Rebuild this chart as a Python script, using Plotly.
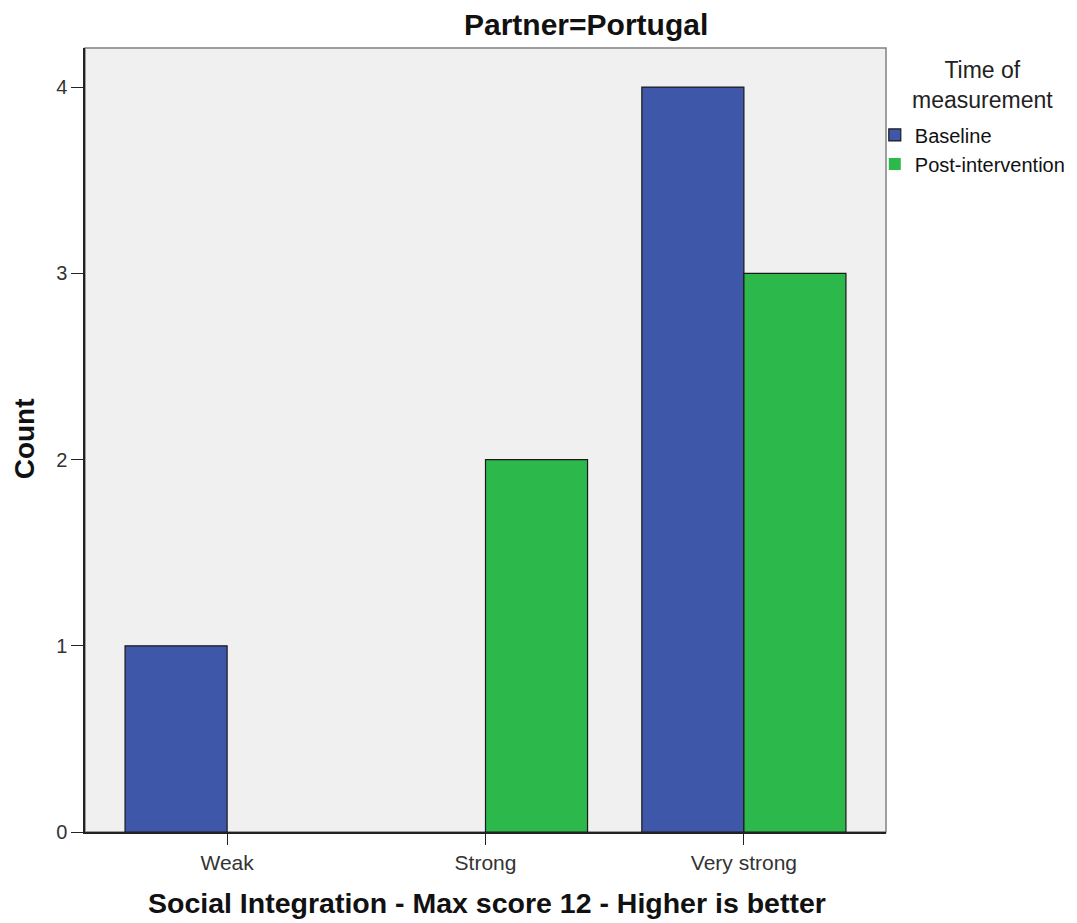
import plotly.graph_objects as go

categories = ["Weak", "Strong", "Very strong"]
baseline = [1, 0, 4]
post_intervention = [0, 2, 3]
series_names = ["Baseline", "Post-intervention"]
y_ticks = [0, 1, 2, 3, 4]

FONT = "Liberation Sans, Arial, sans-serif"


def outline_widths(values):
    return [0 if v == 0 else 1.2 for v in values]


fig = go.Figure()
fig.add_trace(go.Bar(
    x=categories, y=baseline, name=series_names[0],
    marker=dict(color="#3E57A9", line=dict(color="#1a1a1a", width=outline_widths(baseline))),
))
fig.add_trace(go.Bar(
    x=categories, y=post_intervention, name=series_names[1],
    marker=dict(color="#2DB84B", line=dict(color="#1a1a1a", width=outline_widths(post_intervention))),
))

fig.update_layout(
    width=1069, height=915,
    margin=dict(l=77, r=191, t=40, b=91, autoexpand=False),
    paper_bgcolor="white",
    plot_bgcolor="#F0F0F0",
    barmode="group", bargap=0.21, bargroupgap=0,
    font=dict(family=FONT, color="#222222"),
    showlegend=True,
    legend=dict(
        x=0.986, xanchor="left", y=0.914, yanchor="top",
        font=dict(size=20, color="#111111"),
        itemwidth=30, tracegroupgap=0,
        bgcolor="rgba(0,0,0,0)",
    ),
)

fig.update_xaxes(
    range=[-0.55, 2.55], automargin=False,
    showline=True, linecolor="#222222", linewidth=1.5,
    ticks="outside", ticklen=11, tickcolor="#222222",
    tickfont=dict(size=21, color="#333333"),
    showgrid=False, zeroline=False,
)
fig.update_yaxes(
    range=[0, 4.21], tickvals=y_ticks, automargin=False,
    showline=True, linecolor="#222222", linewidth=1.5,
    ticks="outside", ticklen=12, tickcolor="#222222",
    tickfont=dict(size=20, color="#333333"),
    showgrid=False, zeroline=False,
)

# gray frame top/right
fig.add_shape(type="rect", xref="paper", yref="paper", x0=0, y0=0, x1=1, y1=1,
              line=dict(color="#808080", width=1.5), layer="below")

fig.add_annotation(text="<b>Partner=Portugal</b>", xref="paper", yref="paper",
                   x=0.6255, y=1.0306, showarrow=False,
                   font=dict(size=30, color="#111111"), xanchor="center", yanchor="middle")
fig.add_annotation(text="<b>Social Integration - Max score 12 - Higher is better</b>",
                   xref="paper", yref="paper", x=0.502, y=-0.0906, showarrow=False,
                   font=dict(size=28.5, color="#111111"), xanchor="center", yanchor="middle")
fig.add_annotation(text="<b>Count</b>", xref="paper", yref="paper",
                   x=-0.076, y=0.501, showarrow=False, textangle=-90,
                   font=dict(size=28, color="#111111"), xanchor="center", yanchor="middle")
fig.add_annotation(text="Time of<br>measurement", xref="paper", yref="paper",
                   x=1.12, y=0.953, showarrow=False, align="center",
                   font=dict(size=23, color="#222222"), xanchor="center", yanchor="middle")

fig.write_html("out.html")
